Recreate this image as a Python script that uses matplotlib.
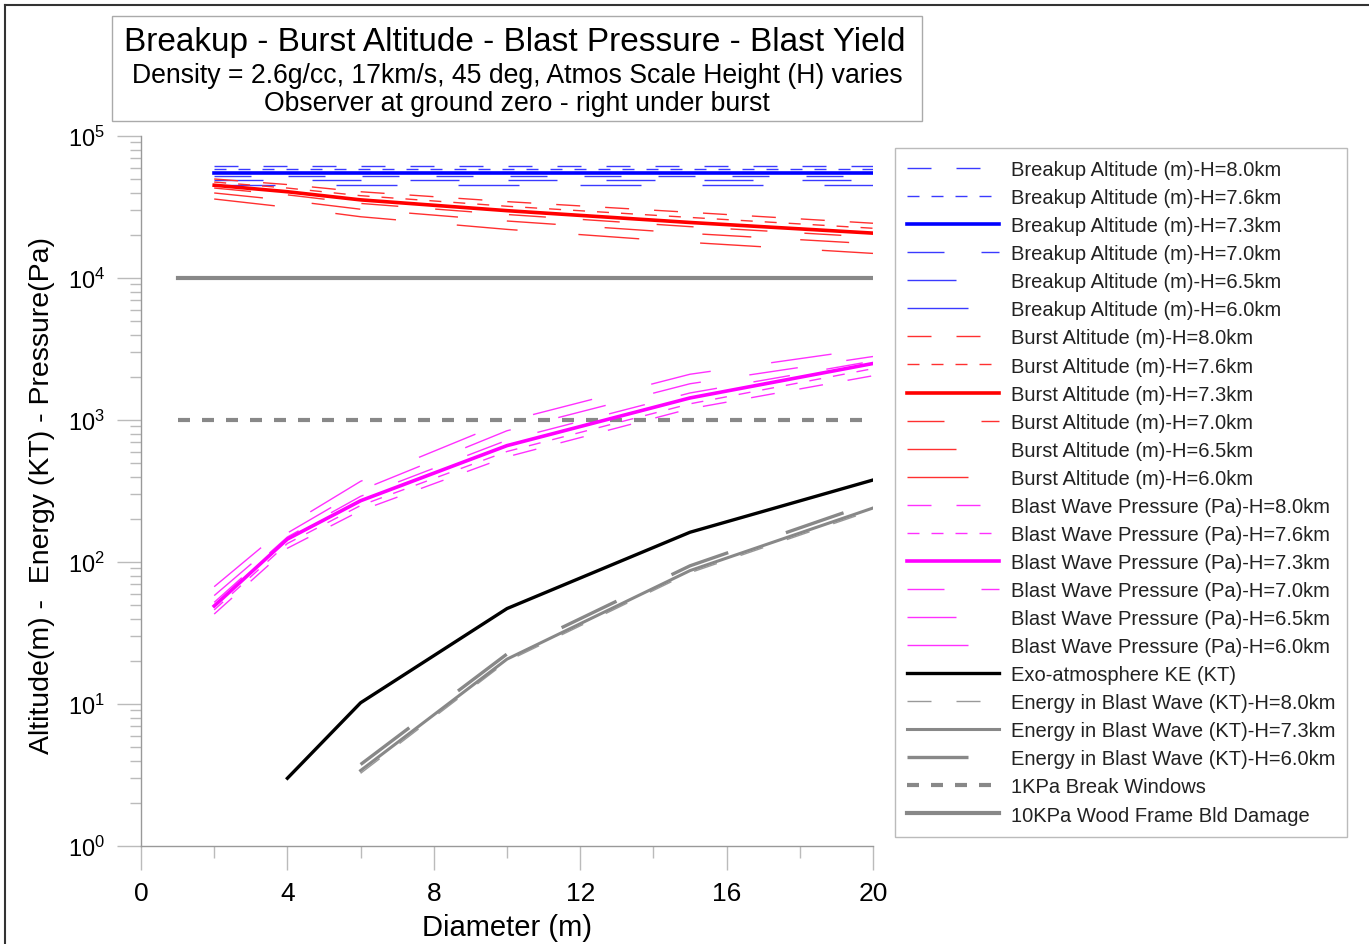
import matplotlib
matplotlib.use("Agg")
import matplotlib.pyplot as plt
from matplotlib.patches import Rectangle
from matplotlib.lines import Line2D
from matplotlib.ticker import FixedLocator, LogLocator, NullFormatter

plt.rcParams["font.family"] = ["Liberation Sans", "DejaVu Sans"]
plt.rcParams["lines.scale_dashes"] = False
plt.rcParams["mathtext.default"] = "regular"

# diameters (m) where the model was evaluated
diam = [2, 4, 6, 10, 15, 20]
heights = ["8.0", "7.6", "7.3", "7.0", "6.5", "6.0"]

# breakup altitude (m), essentially flat with diameter
breakup = {
    "8.0": [61000, 61000, 61000, 61000, 61000, 61000],
    "7.6": [58500, 58500, 58500, 58500, 58500, 58500],
    "7.3": [55000, 55000, 55000, 55000, 55000, 55000],
    "7.0": [52500, 52500, 52500, 52500, 52500, 52500],
    "6.5": [49000, 49000, 49000, 49000, 49000, 49000],
    "6.0": [45500, 45500, 45500, 45500, 45500, 45500],
}

# burst altitude (m)
burst = {
    "8.0": [49800, 45500, 40500, 34500, 29000, 24300],
    "7.6": [47400, 43000, 38000, 32000, 26700, 22400],
    "7.3": [45000, 40500, 35500, 29800, 24600, 20700],
    "7.0": [43000, 38500, 33500, 28000, 23000, 19400],
    "6.5": [39700, 35200, 30500, 25200, 20600, 17400],
    "6.0": [36000, 31500, 27000, 22000, 17800, 14900],
}

# blast wave pressure at ground zero (Pa)
pressure = {
    "8.0": [43, 125, 230, 550, 1200, 2050],
    "7.6": [46, 135, 250, 600, 1300, 2300],
    "7.3": [49, 145, 270, 660, 1430, 2500],
    "7.0": [52, 150, 290, 720, 1550, 2600],
    "6.5": [58, 160, 320, 840, 1800, 2800],
    "6.0": [67, 180, 370, 980, 2100, 3200],
}

# exo-atmosphere kinetic energy (KT)
ke_diam = [4, 6, 10, 15, 20]
ke = [3.0, 10.2, 47, 162, 378]

# energy in blast wave (KT)
e_diam = [6, 10, 15, 20]
energy = {
    "8.0": [3.25, 20.0, 84, 232],
    "7.3": [3.4, 20.7, 87, 240],
    "6.0": [3.75, 22.5, 94, 262],
}

# damage thresholds (Pa)
ref_diam = [1, 20]
windows = [1000, 1000]
wood_frame = [10000, 10000]

# dash patterns in points (long dash, short dash, solid, ...)
px = 0.72
styles = {
    "8.0": dict(dashes=(24 * px, 25 * px), lw=1.0),
    "7.6": dict(dashes=(12 * px, 12 * px), lw=1.0),
    "7.3": dict(ls="-", lw=2.6),
    "7.0": dict(dashes=(37 * px, 37 * px), lw=1.0),
    "6.5": dict(dashes=(49 * px, 49 * px), lw=1.0),
    "6.0": dict(dashes=(61 * px, 61 * px), lw=1.0),
}

fig = plt.figure(figsize=(13.69, 9.45), dpi=100)
W, H = 1369, 945
ax = fig.add_axes([141 / W, 1 - 847 / H, (873 - 141) / W, (847 - 137) / H])

for h in heights:
    ax.plot(diam, breakup[h], color="#0000ff" if h == "7.3" else "#3a3aff",
            label=f"Breakup Altitude (m)-H={h}km",
            zorder=3 if h == "7.3" else 2, **styles[h])
for h in heights:
    ax.plot(diam, burst[h], color="#ff0000" if h == "7.3" else "#ff3030",
            label=f"Burst Altitude (m)-H={h}km",
            zorder=3 if h == "7.3" else 2, **styles[h])
for h in heights:
    ax.plot(diam, pressure[h], color="#ff00ff" if h == "7.3" else "#ff30ff",
            label=f"Blast Wave Pressure (Pa)-H={h}km",
            zorder=3 if h == "7.3" else 2, **styles[h])

ax.plot(ke_diam, ke, color="black", lw=2.4, label="Exo-atmosphere KE (KT)")
ax.plot(e_diam, energy["8.0"], color="#999999", lw=1.0, dashes=(24 * px, 25 * px),
        label="Energy in Blast Wave (KT)-H=8.0km")
ax.plot(e_diam, energy["7.3"], color="#888888", lw=2.2,
        label="Energy in Blast Wave (KT)-H=7.3km")
ax.plot(e_diam, energy["6.0"], color="#888888", lw=2.4, dashes=(61 * px, 61 * px),
        label="Energy in Blast Wave (KT)-H=6.0km")
ax.plot(ref_diam, windows, color="#888888", lw=3, dashes=(12 * px, 12 * px),
        label="1KPa Break Windows")
ax.plot(ref_diam, wood_frame, color="#888888", lw=3,
        label="10KPa Wood Frame Bld Damage")

ax.set_yscale("log")
ax.set_ylim(1, 1e5)
ax.set_xlim(0, 20)
ax.xaxis.set_major_locator(FixedLocator([0, 4, 8, 12, 16, 20]))
ax.xaxis.set_minor_locator(FixedLocator([2, 6, 10, 14, 18]))
ax.yaxis.set_major_locator(LogLocator(base=10, numticks=10))
ax.yaxis.set_minor_locator(LogLocator(base=10, subs=range(2, 10), numticks=10))
ax.yaxis.set_minor_formatter(NullFormatter())

for s in ["top", "right"]:
    ax.spines[s].set_visible(False)
for s in ["left", "bottom"]:
    ax.spines[s].set_color("#999999")
    ax.spines[s].set_linewidth(1)

ax.tick_params(axis="x", which="major", direction="out", length=17, width=1,
               color="#bbbbbb", pad=8, labelsize=19)
ax.tick_params(axis="x", which="minor", direction="out", length=8.5, width=1,
               color="#bbbbbb")
ax.tick_params(axis="y", which="major", direction="out", length=17, width=1,
               color="#bbbbbb", pad=9, labelsize=17)
ax.tick_params(axis="y", which="minor", direction="out", length=8, width=1,
               color="#bbbbbb")

fig.text(507 / W, 1 - 928 / H, "Diameter (m)", ha="center", va="center",
         fontsize=21)
fig.text(42 / W, 1 - 496 / H, "Altitude(m) -  Energy (KT) - Pressure(Pa)",
         ha="center", va="center", rotation=90, fontsize=20.5)

leg = ax.legend(loc="upper left", bbox_to_anchor=(895 / W, 1 - 149 / H),
                bbox_transform=fig.transFigure, fontsize=14.5, handlelength=4.55,
                handletextpad=0.6, labelspacing=0.45, borderpad=0.6,
                borderaxespad=0, fancybox=False, framealpha=1)
leg.get_frame().set_edgecolor("#bbbbbb")
leg.get_frame().set_linewidth(1)
for t in leg.get_texts():
    t.set_color("#222222")

# title box
fig.add_artist(Rectangle((112 / W, 1 - 122 / H), (922 - 112) / W, (122 - 17) / H,
                         transform=fig.transFigure, fill=False, ec="#aaaaaa", lw=1))
fig.text(515 / W, 1 - 43 / H, "Breakup - Burst Altitude - Blast Pressure - Blast Yield",
         ha="center", va="center", fontsize=24)
fig.text(517 / W, 1 - 76 / H,
         "Density = 2.6g/cc, 17km/s, 45 deg, Atmos Scale Height (H) varies",
         ha="center", va="center", fontsize=19.2)
fig.text(517 / W, 1 - 104 / H, "Observer at ground zero - right under burst",
         ha="center", va="center", fontsize=19.2)

# outer border (top and left edges)
fig.add_artist(Line2D([5 / W, 1], [1 - 6 / H, 1 - 6 / H], color="#333333", lw=1.5))
fig.add_artist(Line2D([5 / W, 5 / W], [0, 1 - 6 / H], color="#333333", lw=1.5))

fig.savefig("out.png", dpi=100)
